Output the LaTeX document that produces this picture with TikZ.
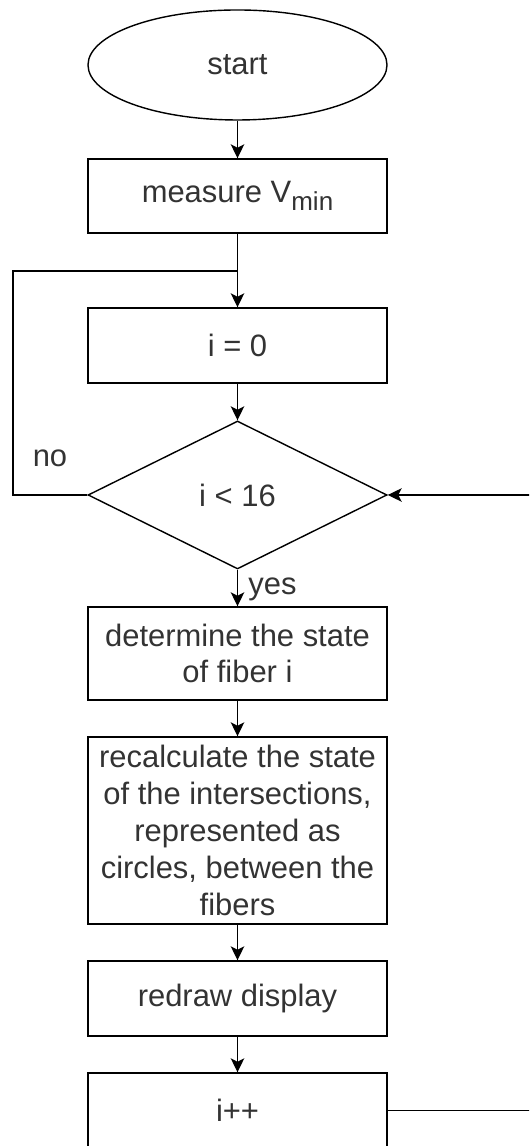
\documentclass[tikz,border=0pt]{standalone}
\usepackage{fontspec}
\setmainfont{Liberation Sans}
\usepackage{tikz}
\usetikzlibrary{positioning, shapes.geometric, arrows.meta}

\newcommand{\lowidx}[1]{\raisebox{-0.28em}{\fontsize{14.8pt}{16pt}\selectfont #1}}

\begin{document}
\begin{tikzpicture}[
    every node/.style={font=\fontsize{17.6pt}{21pt}\selectfont, text=black!80},
    process/.style={rectangle, draw, line width=0.8pt, minimum width=5.98cm, minimum height=#1, inner sep=0pt, align=center},
    process/.default=1.5cm,
    terminal/.style={ellipse, draw, line width=0.8pt, minimum width=5.98cm, minimum height=2.2cm, inner sep=0pt},
    decision/.style={diamond, draw, line width=0.8pt, aspect=2.02, minimum width=5.98cm, minimum height=2.96cm, inner sep=0pt},
    arrow/.style={-{Stealth[length=0.28cm, width=0.27cm, inset=0.07cm]}, line width=0.8pt},
    link/.style={line width=0.8pt},
    label/.style={inner sep=0pt}
]

\clip (0,0) rectangle (10.58,22.92);

\node[terminal] (start) at (4.75,21.62) {start};
\node[process=1.48cm] (measure) at (4.75,19.0) {measure V\lowidx{min}};
\node[process] (init) at (4.75,16.01) {i = 0};
\node[decision] (check) at (4.75,13.02) {i < 16};
\node[process=1.86cm] (state) at (4.75,9.85) {determine the state\\of fiber i};
\node[process=3.74cm] (recalc) at (4.75,6.31) {recalculate the state\\of the intersections,\\represented as\\circles, between the\\fibers};
\node[process] (redraw) at (4.75,2.95) {redraw display};
\node[process] (incr) at (4.75,0.71) {i++};

% Loop points
\coordinate (join) at (4.75,17.5);
\coordinate (noturn) at (0.26,13.02);
\coordinate (backturn) at (10.8,0.71);

% Main flow
\draw[arrow] (start) -- (measure);
\draw[arrow] (measure) -- (init);
\draw[arrow] (init) -- (check);
\draw[arrow] (check) -- (state);
\draw[arrow] (state) -- (recalc);
\draw[arrow] (recalc) -- (redraw);
\draw[arrow] (redraw) -- (incr);

% Loops
\draw[link] (check.west) -- (noturn) |- (join);
\draw[arrow] (incr.east) -- (backturn) |- (check.east);

\node[label] (no) at (1.0,13.76) {no};
\node[label, anchor=west] (yes) at (4.96,11.14) {yes};

\end{tikzpicture}
\end{document}
